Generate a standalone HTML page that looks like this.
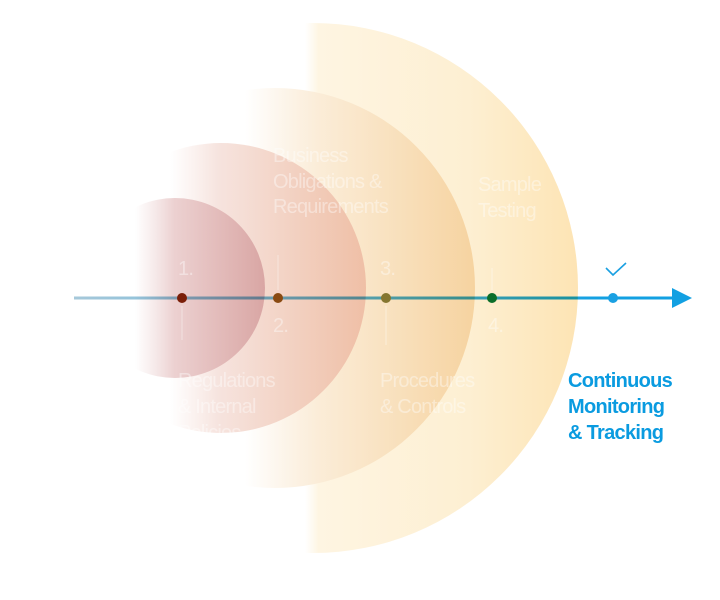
<!DOCTYPE html>
<html><head><meta charset="utf-8"><style>
html,body{margin:0;padding:0;background:#fff;}
svg{display:block;}
.t{font-family:"Liberation Sans Narrow","Liberation Sans",sans-serif;font-size:20px;fill:#fff;opacity:0.4;letter-spacing:-0.8px;}
.b{font-family:"Liberation Sans Narrow","Liberation Sans",sans-serif;font-size:20px;font-weight:bold;fill:#0a9be0;letter-spacing:-0.7px;}
</style></head><body>
<svg width="720" height="600" viewBox="0 0 720 600">
<defs>
<linearGradient id="ln" x1="74" y1="0" x2="600" y2="0" gradientUnits="userSpaceOnUse">
<stop offset="0" stop-color="#a6c8da"/><stop offset="0.6" stop-color="#4fb0dc"/><stop offset="1" stop-color="#12a0e2"/>
</linearGradient>
<linearGradient id="g4" x1="305" y1="0" x2="578" y2="0" gradientUnits="userSpaceOnUse">
<stop offset="0" stop-color="#fef6e4" stop-opacity="0"/><stop offset="0.05" stop-color="#fef5e2" stop-opacity="1"/><stop offset="0.6" stop-color="#fdefd2"/><stop offset="1" stop-color="#fde4b4"/>
</linearGradient>
<linearGradient id="g3" x1="245" y1="0" x2="475" y2="0" gradientUnits="userSpaceOnUse">
<stop offset="0" stop-color="#fbeedd" stop-opacity="0"/><stop offset="0.25" stop-color="#fbeedc" stop-opacity="0.9"/><stop offset="1" stop-color="#f6d3a0"/>
</linearGradient>
<linearGradient id="g2" x1="170" y1="0" x2="366" y2="0" gradientUnits="userSpaceOnUse">
<stop offset="0" stop-color="#f6e2dc" stop-opacity="0"/><stop offset="0.25" stop-color="#f5e0da" stop-opacity="0.9"/><stop offset="1" stop-color="#efbfa6"/>
</linearGradient>
<linearGradient id="g1" x1="135" y1="0" x2="265" y2="0" gradientUnits="userSpaceOnUse">
<stop offset="0" stop-color="#ecd4d4" stop-opacity="0"/><stop offset="0.3" stop-color="#eacccc" stop-opacity="0.9"/><stop offset="1" stop-color="#d9a6a4"/>
</linearGradient>
</defs>
<circle cx="313" cy="288" r="265" fill="url(#g4)"/>
<circle cx="275" cy="288" r="200" fill="url(#g3)"/>
<circle cx="221" cy="288" r="145" fill="url(#g2)"/>
<circle cx="175" cy="288" r="90" fill="url(#g1)"/>
<line x1="74" y1="298" x2="675" y2="298" stroke="url(#ln)" stroke-width="3" style="mix-blend-mode:multiply"/>
<polygon points="672,288 692,298 672,308" fill="#12a0e2"/>
<g stroke="#fff" stroke-width="1.2" opacity="0.35">
<line x1="278" y1="255" x2="278" y2="290"/>
<line x1="182" y1="306" x2="182" y2="340"/>
<line x1="386" y1="306" x2="386" y2="345"/>
<line x1="492" y1="268" x2="492" y2="290"/>
</g>
<circle cx="182" cy="298" r="5" fill="#7a1e08"/>
<circle cx="278" cy="298" r="5" fill="#8a4a12"/>
<circle cx="386" cy="298" r="5" fill="#857630"/>
<circle cx="492" cy="298" r="5" fill="#0b6e2a"/>
<circle cx="613" cy="298" r="5" fill="#1aa0e2"/>
<polyline points="606,268 613,275 626,263" fill="none" stroke="#1aa0e2" stroke-width="1.6"/>
<text class="t" x="273" y="162">Business</text>
<text class="t" x="273" y="188">Obligations &amp;</text>
<text class="t" x="273" y="213">Requirements</text>
<text class="t" x="478" y="191">Sample</text>
<text class="t" x="478" y="217">Testing</text>
<text class="t" x="178" y="275">1.</text>
<text class="t" x="273" y="332">2.</text>
<text class="t" x="380" y="275">3.</text>
<text class="t" x="488" y="332">4.</text>
<text class="t" x="178" y="387">Regulations</text>
<text class="t" x="178" y="413">&amp; Internal</text>
<text class="t" x="178" y="439">Policies</text>
<text class="t" x="380" y="387">Procedures</text>
<text class="t" x="380" y="413">&amp; Controls</text>
<text class="b" x="568" y="387">Continuous</text>
<text class="b" x="568" y="413">Monitoring</text>
<text class="b" x="568" y="439">&amp; Tracking</text>
</svg>
</body></html>
